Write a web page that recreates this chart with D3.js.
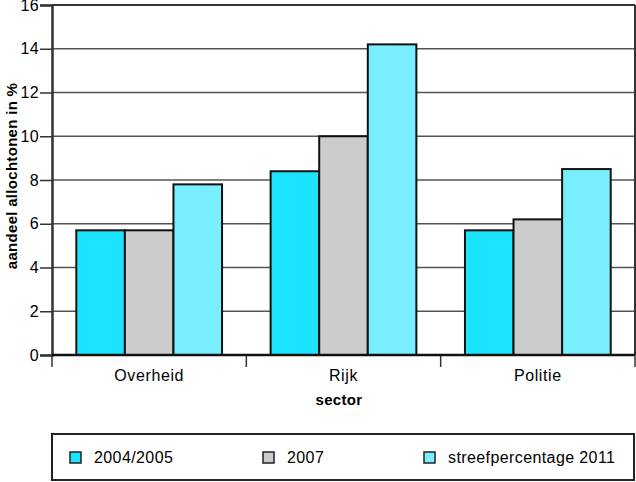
<!DOCTYPE html>
<html><head><meta charset="utf-8">
<script src="https://cdn.jsdelivr.net/npm/d3@7"></script>
<style>body{margin:0;background:#fff}svg{display:block;font-family:"Liberation Sans",Arial,sans-serif}</style>
</head><body><svg id="c" width="636" height="482"></svg>
<script>
const categories = ["Overheid", "Rijk", "Politie"];
const series = ["2004/2005", "2007", "streefpercentage 2011"];
const v2004 = [5.7, 8.4, 5.7];
const v2007 = [5.7, 10.0, 6.2];
const v2011 = [7.8, 14.2, 8.5];
const yTicks = [0, 2, 4, 6, 8, 10, 12, 14, 16];
const colors = ["#1ce4ff", "#cccccc", "#78eeff"];

const values = [v2004, v2007, v2011];
const svg = d3.select("#c");
const L = 52, R = 635, T = 5, B = 355;
const FONT = "Liberation Sans, Arial, sans-serif";
const x = d3.scaleBand().domain(categories).range([L, R]).paddingInner(0).paddingOuter(0);
const xs = d3.scaleBand().domain(series).range([0, x.bandwidth()]).paddingInner(0).paddingOuter(0.5);
const y = d3.scaleLinear().domain([0, 16]).range([B, T]);

// gridlines
svg.append("g").selectAll("line").data(yTicks.filter(d => d > 0 && d < 16)).join("line")
  .attr("x1", L).attr("x2", R).attr("y1", d => y(d)).attr("y2", d => y(d))
  .attr("stroke", "#555").attr("stroke-width", 1.5);

// bars
categories.forEach((c, i) => {
  series.forEach((s, j) => {
    svg.append("rect").attr("x", x(c) + xs(s)).attr("y", y(values[j][i]))
      .attr("width", xs.bandwidth()).attr("height", B - y(values[j][i]))
      .attr("fill", colors[j]).attr("stroke", "#111").attr("stroke-width", 2);
  });
});

// frame
svg.append("line").attr("x1", L).attr("x2", R).attr("y1", T).attr("y2", T).attr("stroke", "#333").attr("stroke-width", 2);
svg.append("line").attr("x1", R).attr("x2", R).attr("y1", T).attr("y2", B).attr("stroke", "#333").attr("stroke-width", 2);

// y axis
const ya = d3.axisLeft(y).tickValues(yTicks).tickSize(12).tickPadding(1).tickFormat(d3.format("d"));
const gy = svg.append("g").attr("transform", `translate(${L},0)`).call(ya);
gy.select(".domain").attr("stroke", "#333").attr("stroke-width", 2.5);
gy.selectAll(".tick line").attr("stroke", "#333").attr("stroke-width", 1.5);
gy.selectAll("text").attr("font-size", 16).attr("fill", "#000").attr("font-family", FONT).attr("letter-spacing", 0.3);

// x axis
const xa = d3.axisBottom(x).tickSize(0).tickPadding(15);
const gx = svg.append("g").attr("transform", `translate(0,${B})`).call(xa);
gx.select(".domain").remove();
gx.selectAll("text").attr("font-size", 16).attr("fill", "#000").attr("font-family", FONT).attr("letter-spacing", 0.6);
const bounds = [L, ...categories.map(c => x(c) + x.bandwidth())];
svg.append("g").selectAll("line").data(bounds).join("line")
  .attr("x1", d => d).attr("x2", d => d).attr("y1", B).attr("y2", B + 12)
  .attr("stroke", "#333").attr("stroke-width", 1.5);
svg.append("line").attr("x1", L).attr("x2", R).attr("y1", B).attr("y2", B).attr("stroke", "#111").attr("stroke-width", 2.5);

// axis titles
svg.append("text").attr("x", 339).attr("y", 405).attr("text-anchor", "middle")
  .attr("font-size", 15).attr("font-weight", "bold").attr("letter-spacing", 0.3).text("sector");
svg.append("text").attr("transform", `translate(17,176) rotate(-90)`).attr("text-anchor", "middle")
  .attr("font-size", 15).attr("font-weight", "bold").attr("letter-spacing", 0.3).text("aandeel allochtonen in %");

// legend
svg.append("rect").attr("x", 52).attr("y", 434).attr("width", 582).attr("height", 46)
  .attr("fill", "#fff").attr("stroke", "#222").attr("stroke-width", 2);
const lx = [70, 263, 424];
series.forEach((s, j) => {
  const g = svg.append("g").attr("transform", `translate(${lx[j]},452)`);
  g.append("rect").attr("width", 11).attr("height", 11).attr("fill", colors[j]).attr("stroke", "#222").attr("stroke-width", 1.5);
  g.append("text").attr("x", 24).attr("y", 11).attr("font-size", 16).attr("letter-spacing", 0.4).text(s);
});
</script></body></html>
